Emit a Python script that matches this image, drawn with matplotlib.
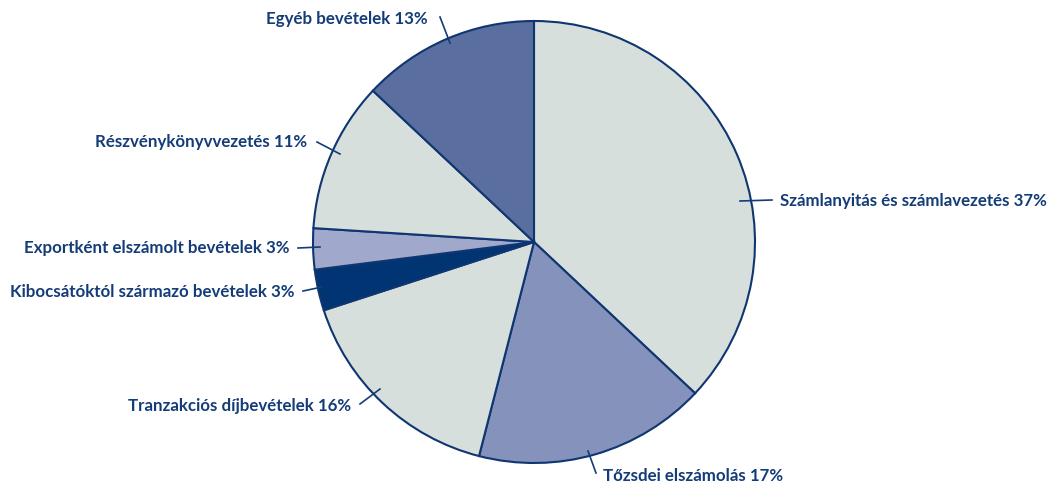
import matplotlib.pyplot as plt

labels = ["Számlanyitás és számlavezetés 37%", "Tőzsdei elszámolás 17%",
          "Tranzakciós díjbevételek 16%", "Kibocsátóktól származó bevételek 3%",
          "Exportként elszámolt bevételek 3%", "Részvénykönyvvezetés 11%",
          "Egyéb bevételek 13%"]
shares = [37, 17, 16, 3, 3, 11, 13]
colors = ["#d6dfdb", "#8592bb", "#d6dfdb", "#003473", "#a0a9cb", "#d6dfdb", "#5a6e9f"]

navy = "#143c78"
W, H = 1053, 485

fig = plt.figure(figsize=(W / 100, H / 100), dpi=100)
ax = fig.add_axes([0, 0, 1, 1])

ax.pie(shares, colors=colors, startangle=90, counterclock=False,
       center=(534, H - 243), radius=221, frame=True,
       wedgeprops=dict(edgecolor="#0f3670", linewidth=1.5))
ax.set_xlim(0, W)
ax.set_ylim(0, H)
ax.set_aspect("auto")
ax.axis("off")

# label text position (pixel, y from top), alignment, leader line
placements = [
    ((780, 201), "left", ((740, 202), (772, 201))),
    ((603, 476), "left", ((588, 452), (596, 474))),
    ((351, 406), "right", ((360, 405), (380, 390))),
    ((294, 292), "right", ((303, 292), (322, 288))),
    ((290, 248), "right", ((298, 249), (320, 248))),
    ((307, 142), "right", ((317, 143), (340, 155))),
    ((428, 19), "right", ((440, 18), (450, 44))),
]

for lab, (pos, ha, line) in zip(labels, placements):
    ax.text(pos[0], H - pos[1], lab, ha=ha, va="center", color=navy,
            fontsize=12.2, fontweight="bold", family="Lato")
    (x0, y0), (x1, y1) = line
    ax.plot([x0, x1], [H - y0, H - y1], color=navy, lw=1.2)

fig.savefig("out.png", dpi=100)
